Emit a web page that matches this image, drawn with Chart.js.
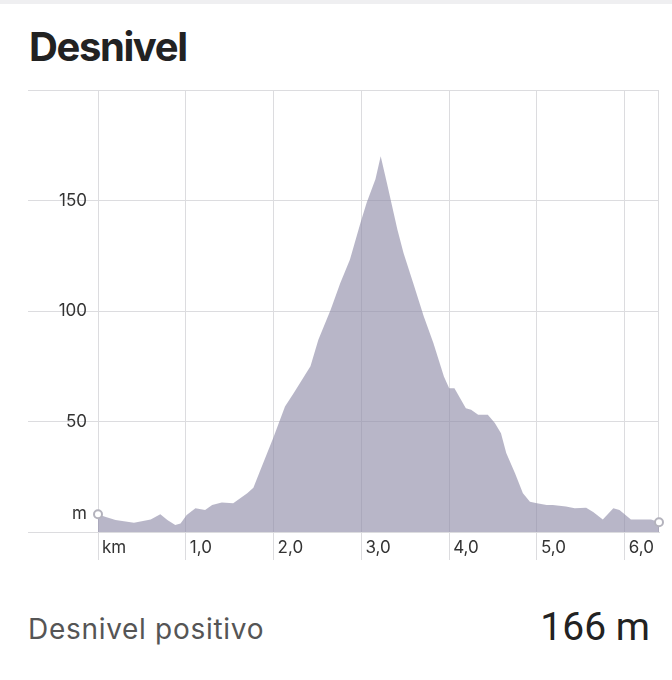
<!DOCTYPE html>
<html>
<head>
<meta charset="utf-8">
<script src="https://cdn.jsdelivr.net/npm/chart.js@4.4.1/dist/chart.umd.min.js"></script>
<style>
  body { margin: 0; width: 672px; height: 680px; background: #fff; position: relative; overflow: hidden; font-family: Inter, "Noto Sans", sans-serif; }
  .topbar { position: absolute; left: 0; top: 0; width: 672px; height: 4px; background: #efeff1; }
  h1 { position: absolute; left: 29px; top: 27px; margin: 0; font-size: 40px; line-height: 40px; font-weight: 700; letter-spacing: -1.4px; color: #222; }
  #wrap { position: absolute; left: 0; top: 80px; width: 672px; height: 490px; }
  .stat { position: absolute; left: 28px; top: 613px; font-family: Inter, sans-serif; font-size: 28px; line-height: 32px; letter-spacing: 0.7px; color: #555; }
  .val { position: absolute; right: 22px; top: 605px; font-family: Roboto, sans-serif; font-size: 39px; line-height: 44px; color: #222; }
</style>
</head>
<body>
<div class="topbar"></div>
<h1>Desnivel</h1>
<div id="wrap"><canvas id="profile" width="672" height="490"></canvas></div>
<div class="stat">Desnivel positivo</div>
<div class="val">166 m</div>

<script>
// elevation profile
const distKm = [0, 0.08, 0.2, 0.41, 0.6, 0.71, 0.79, 0.88, 0.94, 1.01, 1.11, 1.22, 1.30, 1.41, 1.54, 1.70, 1.77, 1.85,
  2.0, 2.13, 2.23, 2.42, 2.51, 2.65, 2.76, 2.87, 2.99, 3.06, 3.16, 3.22, 3.29, 3.41, 3.48, 3.59, 3.71, 3.82, 3.94,
  4.0, 4.06, 4.19, 4.25, 4.33, 4.44, 4.52, 4.59, 4.65, 4.75, 4.84, 4.92, 5.0, 5.11, 5.18, 5.33, 5.43, 5.56, 5.64,
  5.75, 5.87, 5.94, 6.07, 6.30, 6.39];
const elevM = [8, 6.9, 5.4, 4.2, 5.7, 8.0, 5.4, 3.2, 3.9, 7.7, 10.7, 10.0, 12.2, 13.3, 13.0, 17.5, 20, 28,
  43, 56.8, 62.9, 75, 87, 100.6, 112.7, 123.3, 139.9, 149, 159.6, 170, 158, 136.9, 126.3, 112.7, 97.6, 85.5, 70.4,
  65, 65, 56, 55.3, 53, 53, 49.3, 44.7, 35.7, 26.6, 17.5, 13.7, 13, 12.2, 12.2, 11.5, 10.7, 11, 9,
  5.7, 10.7, 10, 5.7, 5.7, 4.4];

const xTickLabels = ['km', '1,0', '2,0', '3,0', '4,0', '5,0', '6,0'];
const yTickLabels = ['', '50', '100', '150', ''];
const yUnit = 'm';

const gridColor = '#dcdcdf';

// right edge of the plot and the unit next to the start point
const extras = {
  id: 'extras',
  beforeDatasetsDraw(chart) {
    const { ctx, chartArea } = chart;
    ctx.save();
    ctx.strokeStyle = gridColor;
    ctx.lineWidth = 1;
    ctx.beginPath();
    ctx.moveTo(chartArea.right - 0.5, chartArea.top);
    ctx.lineTo(chartArea.right - 0.5, chartArea.bottom);
    ctx.stroke();
    ctx.restore();
  },
  afterDraw(chart) {
    const { ctx, chartArea, scales } = chart;
    ctx.save();
    ctx.fillStyle = '#333';
    ctx.font = '17px Inter';
    ctx.textAlign = 'right';
    ctx.textBaseline = 'middle';
    ctx.fillText(yUnit, chartArea.left - 11, scales.y.getPixelForValue(elevM[0]));
    ctx.restore();
  }
};

Chart.defaults.font.family = 'Inter';
Chart.defaults.font.size = 17;

const last = elevM.length - 1;

new Chart(document.getElementById('profile'), {
  type: 'line',
  data: {
    datasets: [{
      data: distKm.map((d, i) => ({ x: d, y: elevM[i] })),
      fill: 'origin',
      backgroundColor: 'rgba(140,137,166,0.62)',
      borderWidth: 0,
      tension: 0,
      clip: false,
      pointRadius: ctx => (ctx.dataIndex === 0 || ctx.dataIndex === last) ? 4 : 0,
      pointBackgroundColor: '#fff',
      pointBorderColor: '#b4b3bd',
      pointBorderWidth: 2
    }]
  },
  options: {
    responsive: false,
    animation: false,
    layout: { padding: { left: 28, right: 13, top: 10, bottom: 0 } },
    plugins: { legend: { display: false }, tooltip: { enabled: false } },
    scales: {
      x: {
        type: 'linear',
        min: 0,
        max: distKm[last],
        ticks: {
          stepSize: 1, includeBounds: false, autoSkip: false, maxRotation: 0,
          align: 'start', labelOffset: 4, padding: -22, color: '#333',
          callback: (v, i) => xTickLabels[i]
        },
        grid: { color: gridColor, tickLength: 28 },
        border: { color: gridColor },
        afterFit: s => { s.height = 38; }
      },
      y: {
        min: 0,
        max: 200,
        ticks: {
          stepSize: 50, padding: -59, color: '#333',
          callback: (v, i) => yTickLabels[i]
        },
        grid: { color: gridColor, tickLength: 70 },
        border: { color: gridColor },
        afterFit: s => { s.width = 70; }
      }
    }
  },
  plugins: [extras]
});
</script>
</body>
</html>
